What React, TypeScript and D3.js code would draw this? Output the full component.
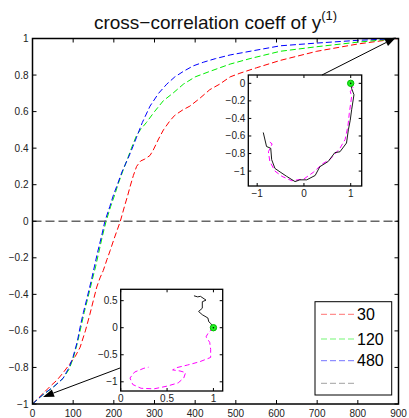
import React from "react";
import * as d3 from "d3";

// Cross-correlation coefficient vs. lag, one series per window length
const redLag = [0, 27, 45, 60, 75, 92, 105, 117, 130, 141, 150, 158, 166, 174, 183, 191, 200, 208, 216, 226, 234, 240, 248, 256, 266, 276, 289, 297, 310, 322, 338, 350, 370, 387, 410, 436, 460, 486, 510, 551, 609, 699, 800, 900];
const redCoef = [-1, -0.94, -0.9, -0.87, -0.83, -0.78, -0.74, -0.69, -0.6, -0.51, -0.43, -0.36, -0.31, -0.27, -0.21, -0.16, -0.1, -0.05, 0, 0.08, 0.14, 0.19, 0.25, 0.3, 0.33, 0.34, 0.36, 0.39, 0.45, 0.5, 0.55, 0.58, 0.61, 0.63, 0.67, 0.72, 0.75, 0.79, 0.81, 0.84, 0.88, 0.93, 0.97, 1];

const greenLag = [0, 25, 50, 75, 90, 100, 110, 118, 127, 135, 147, 155, 163, 172, 181, 192, 203, 210, 223, 235, 245, 256, 265, 280, 300, 322, 345, 371, 400, 436, 486, 535, 609, 699, 800, 900];
const greenCoef = [-1, -0.95, -0.91, -0.86, -0.81, -0.75, -0.67, -0.59, -0.5, -0.43, -0.32, -0.25, -0.17, -0.08, 0, 0.08, 0.15, 0.2, 0.28, 0.35, 0.41, 0.47, 0.5, 0.54, 0.6, 0.66, 0.7, 0.75, 0.79, 0.82, 0.86, 0.89, 0.93, 0.955, 0.98, 1];

const blueLag = [0, 12, 25, 40, 55, 75, 90, 100, 110, 117, 125, 133, 145, 152, 160, 170, 178, 190, 200, 207, 220, 232, 240, 256, 270, 289, 310, 330, 350, 371, 395, 420, 450, 486, 535, 609, 699, 800, 900];
const blueCoef = [-1, -0.975, -0.95, -0.925, -0.9, -0.86, -0.8, -0.74, -0.66, -0.58, -0.5, -0.43, -0.32, -0.25, -0.17, -0.08, 0, 0.08, 0.15, 0.19, 0.27, 0.33, 0.37, 0.46, 0.54, 0.63, 0.7, 0.75, 0.79, 0.82, 0.85, 0.87, 0.89, 0.91, 0.93, 0.96, 0.975, 0.99, 1];

const legendLabels = ["30", "120", "480", ""];
const xTicks = [0, 100, 200, 300, 400, 500, 600, 700, 800, 900];
const yTicks = [-1, -0.8, -0.6, -0.4, -0.2, 0, 0.2, 0.4, 0.6, 0.8, 1];

// Trajectory insets (real vs imaginary parts)
const topBlackX = [-0.87, -0.8, -0.71, -0.69, -0.62, -0.51, -0.37, -0.19, -0.09, 0.06, 0.24, 0.34, 0.52, 0.66, 0.77, 0.91, 0.95, 0.99, 1.02, 1.07, 1.02, 1.0];
const topBlackY = [-0.56, -0.72, -0.74, -0.87, -0.97, -1.01, -1.06, -1.12, -1.1, -1.1, -1.05, -0.95, -0.89, -0.79, -0.78, -0.68, -0.53, -0.42, -0.3, -0.13, -0.06, 0];
const topMagX = [-0.73, -0.68, -0.76, -0.73, -0.62, -0.47, -0.26, 0.0, 0.21, 0.39, 0.57, 0.77, 0.88, 0.94, 0.97, 1.02, 0.99, 1.06, 1.0];
const topMagY = [-0.67, -0.69, -0.78, -0.89, -1.0, -1.06, -1.11, -1.09, -1.01, -0.92, -0.86, -0.74, -0.64, -0.49, -0.34, -0.15, -0.09, -0.06, 0];
const topXTicks = [-1, 0, 1];
const topYTicks = [0, -0.2, -0.4, -0.6, -0.8, -1];

const botBlackX = [0.79, 0.83, 0.86, 0.92, 0.88, 0.88, 0.84, 0.88, 0.94, 0.95, 0.97, 1.0];
const botBlackY = [0.59, 0.57, 0.58, 0.51, 0.48, 0.36, 0.3, 0.24, 0.18, 0.11, 0.08, 0];
const botMagX = [1.0, 0.95, 0.92, 0.96, 0.97, 0.97, 0.85, 0.72, 0.6, 0.56, 0.64, 0.7, 0.68, 0.62, 0.5, 0.36, 0.22, 0.13, 0.1, 0.15, 0.25, 0.3];
const botMagY = [0, -0.08, -0.17, -0.27, -0.4, -0.55, -0.63, -0.69, -0.74, -0.78, -0.8, -0.83, -0.93, -1.02, -1.08, -1.13, -1.12, -1.05, -0.93, -0.82, -0.75, -0.73];
const botXTicks = [0, 0.5, 1];
const botYTicks = [0.5, 0, -0.5, -1];

const FONT = "'Liberation Sans', Arial, Helvetica, sans-serif";
const fmt = (v: number) => String(v).replace("-", "\u2212");

const x = d3.scaleLinear().domain([0, 900]).range([32.5, 398.5]);
const y = d3.scaleLinear().domain([-1, 1]).range([404, 38.5]);

type Pt = [number, number];
const zip = (a: number[], b: number[]): Pt[] => a.map((v, i) => [v, b[i]]);

function Arrow({ x1, y1, x2, y2 }: { x1: number; y1: number; x2: number; y2: number }) {
  const ang = Math.atan2(y2 - y1, x2 - x1);
  const L = 11, W = 4;
  const bx = x2 - L * Math.cos(ang), by = y2 - L * Math.sin(ang);
  const px = -Math.sin(ang) * W, py = Math.cos(ang) * W;
  return (
    <g>
      <line x1={x1} y1={y1} x2={bx} y2={by} stroke="#000" strokeWidth={1} />
      <polygon points={`${x2},${y2} ${bx + px},${by + py} ${bx - px},${by - py}`} fill="#000" />
    </g>
  );
}

function Inset({
  xs, ys, xTicks, yTicks, black, magenta,
}: {
  xs: d3.ScaleLinear<number, number>;
  ys: d3.ScaleLinear<number, number>;
  xTicks: number[];
  yTicks: number[];
  black: Pt[];
  magenta: Pt[];
}) {
  const [x0, x1] = xs.range();
  const [y0, y1] = ys.range(); // y0 bottom, y1 top
  const line = d3.line<Pt>().x((d) => xs(d[0])).y((d) => ys(d[1]));
  const t = 3;
  return (
    <g>
      <rect x={x0} y={y1} width={x1 - x0} height={y0 - y1} fill="#fff" />
      <path d={line(magenta) ?? ""} fill="none" stroke="#ff00ff" strokeWidth={1} strokeDasharray="5,3" />
      <path d={line(black) ?? ""} fill="none" stroke="#000" strokeWidth={0.9} />
      <circle cx={xs(1)} cy={ys(0)} r={3.2} fill="#22ee22" stroke="#00bb00" strokeWidth={1} />
      <circle cx={xs(1)} cy={ys(0)} r={0.8} fill="#000" />
      {xTicks.map((v) => (
        <g key={"x" + v}>
          <line x1={xs(v)} x2={xs(v)} y1={y0} y2={y0 - t} stroke="#000" />
          <line x1={xs(v)} x2={xs(v)} y1={y1} y2={y1 + t} stroke="#000" />
          <text x={xs(v)} y={y0 + 11} fontSize={10} textAnchor="middle" fontFamily={FONT} fill="#222">{fmt(v)}</text>
        </g>
      ))}
      {yTicks.map((v) => (
        <g key={"y" + v}>
          <line x1={x0} x2={x0 + t} y1={ys(v)} y2={ys(v)} stroke="#000" />
          <line x1={x1} x2={x1 - t} y1={ys(v)} y2={ys(v)} stroke="#000" />
          <text x={x0 - 3} y={ys(v) + 3.5} fontSize={10} textAnchor="end" fontFamily={FONT} fill="#222">{fmt(v)}</text>
        </g>
      ))}
      <rect x={x0} y={y1} width={x1 - x0} height={y0 - y1} fill="none" stroke="#000" strokeWidth={1.3} />
    </g>
  );
}

export default function App() {
  const line = d3.line<Pt>().x((d) => x(d[0])).y((d) => y(d[1]));
  const series = [
    { lag: redLag, coef: redCoef, color: "#ff0000" },
    { lag: greenLag, coef: greenCoef, color: "#00ee00" },
    { lag: blueLag, coef: blueCoef, color: "#0000ff" },
  ];
  const [L, R] = x.range();
  const [B, T] = y.range();
  const tk = 4;

  const topX = d3.scaleLinear().domain([-1.19, 1.235]).range([248.3, 361.7]);
  const topY = d3.scaleLinear().domain([-1.17, 0.095]).range([186, 75]);
  const botX = d3.scaleLinear().domain([0, 1.1]).range([120.7, 222.7]);
  const botY = d3.scaleLinear().domain([-1.17, 0.71]).range([391, 289.3]);

  const legendColors = ["#ff0000", "#00ee00", "#0000ff", "#555"];

  return (
    <div style={{ position: "fixed", left: 0, top: 0 }}>
      <svg width={409} height={418} style={{ display: "block", background: "#fff" }}>
        <rect width={409} height={418} fill="#fff" />
        <text x={(L + R) / 2} y={28.5} fontSize={19} textAnchor="middle" fontFamily={FONT} fill="#111">
          cross{"\u2212"}correlation coeff of y
          <tspan fontSize={13} dy={-9}>(1)</tspan>
        </text>

        {series.map((s) => (
          <path key={s.color} d={line(zip(s.lag, s.coef)) ?? ""} fill="none" stroke={s.color} strokeWidth={1} strokeDasharray="6,3" />
        ))}
        <line x1={L} x2={R} y1={y(0)} y2={y(0)} stroke="#666" strokeWidth={1.6} strokeDasharray="9,4" />

        {xTicks.map((v) => (
          <g key={"mx" + v}>
            <line x1={x(v)} x2={x(v)} y1={B} y2={B - tk} stroke="#000" />
            <line x1={x(v)} x2={x(v)} y1={T} y2={T + tk} stroke="#000" />
            <text x={x(v)} y={416.5} fontSize={10} textAnchor="middle" fontFamily={FONT} fill="#222">{v}</text>
          </g>
        ))}
        {yTicks.map((v) => (
          <g key={"my" + v}>
            <line x1={L} x2={L + tk} y1={y(v)} y2={y(v)} stroke="#000" />
            <line x1={R} x2={R - tk} y1={y(v)} y2={y(v)} stroke="#000" />
            <text x={28.5} y={y(v) + 3.5} fontSize={10} textAnchor="end" fontFamily={FONT} fill="#222">{fmt(v)}</text>
          </g>
        ))}
        <rect x={L} y={T} width={R - L} height={B - T} fill="none" stroke="#000" strokeWidth={1.5} />

        <Inset xs={topX} ys={topY} xTicks={topXTicks} yTicks={topYTicks} black={zip(topBlackX, topBlackY)} magenta={zip(topMagX, topMagY)} />
        <Inset xs={botX} ys={botY} xTicks={botXTicks} yTicks={botYTicks} black={zip(botBlackX, botBlackY)} magenta={zip(botMagX, botMagY)} />

        <Arrow x1={322} y1={75} x2={396} y2={37.5} />
        <Arrow x1={120} y1={368} x2={43} y2={397} />

        <g>
          <rect x={315} y={301.7} width={76.7} height={93.3} fill="#fff" stroke="#000" strokeWidth={1} />
          {legendLabels.map((lab, i) => {
            const yy = [314.3, 339, 360.7, 383.3][i];
            return (
              <g key={i}>
                <line x1={321} x2={354} y1={yy} y2={yy} stroke={legendColors[i]} strokeOpacity={0.55} strokeWidth={1} strokeDasharray="6,3" />
                <text x={357} y={yy + 5.5} fontSize={16} fontFamily={FONT} fill="#000">{lab}</text>
              </g>
            );
          })}
        </g>
      </svg>
    </div>
  );
}
